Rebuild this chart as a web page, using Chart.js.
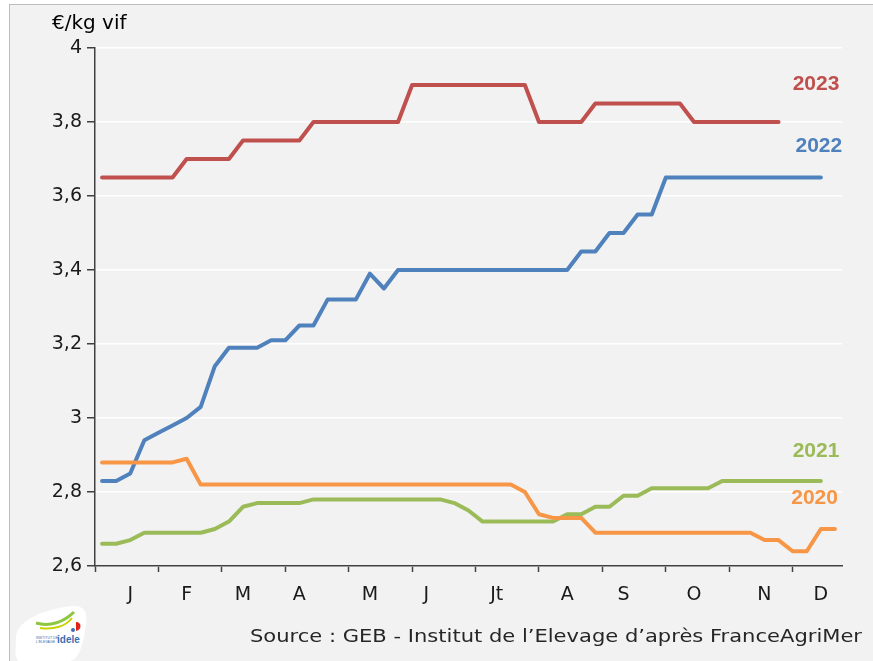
<!DOCTYPE html>
<html>
<head>
<meta charset="utf-8">
<script src="https://cdn.jsdelivr.net/npm/chart.js@4.4.0/dist/chart.umd.min.js"></script>
<style>
  body { margin: 0; background: #fff; }
  #frame { position: absolute; left: 9px; top: 4px; width: 900px; height: 700px;
           background: #f2f2f2; border-top: 1px solid #bdbdbd; border-left: 1px solid #bdbdbd; }
  #logo { position: absolute; left: 10px; top: 600px; }
  canvas { position: absolute; left: 0; top: 0; }
</style>
</head>
<body>
<div id="frame"></div>
<svg id="logo" width="80" height="61" viewBox="0 0 80 61">
  <path d="M6 40 C 4 22, 30 10, 62 6 C 74 5, 78 12, 76 24 C 74 40, 70 60, 60 61 L 8 61 C 4 55, 6 48, 6 40 Z" fill="#fff"/>
  <path d="M26 23 C 40 27, 54 22, 64 12" stroke="#8dc63f" stroke-width="3" fill="none"/>
  <path d="M30 28 C 44 30, 56 26, 62 18" stroke="#c8d400" stroke-width="2" fill="none"/>
  <path d="M66 22 C 72 22, 72 30, 66 31 Z" fill="#e2231a"/>
  <circle cx="63" cy="30" r="2" fill="#3a6fb0"/>
  <text x="26" y="39" font-family="Liberation Sans" font-size="3.6" fill="#3a6fb0">INSTITUT DE</text>
  <text x="26" y="43" font-family="Liberation Sans" font-size="3.6" fill="#3a6fb0">L'ELEVAGE</text>
  <text x="47" y="43" font-family="Liberation Sans" font-weight="bold" font-size="10" fill="#3a6fb0">idele</text>
</svg>
<canvas id="chart" width="873" height="661"></canvas>
<script>
// weekly prices, €/kg vif (week index 0..52)
const prices2023 = [3.65, 3.65, 3.65, 3.65, 3.65, 3.65, 3.70, 3.70, 3.70, 3.70,
  3.75, 3.75, 3.75, 3.75, 3.75, 3.80, 3.80, 3.80, 3.80, 3.80,
  3.80, 3.80, 3.90, 3.90, 3.90, 3.90, 3.90, 3.90, 3.90, 3.90,
  3.90, 3.80, 3.80, 3.80, 3.80, 3.85, 3.85, 3.85, 3.85, 3.85,
  3.85, 3.85, 3.80, 3.80, 3.80, 3.80, 3.80, 3.80, 3.80];
const prices2022 = [2.83, 2.83, 2.85, 2.94, 2.96, 2.98, 3.00, 3.03, 3.14, 3.19,
  3.19, 3.19, 3.21, 3.21, 3.25, 3.25, 3.32, 3.32, 3.32, 3.39,
  3.35, 3.40, 3.40, 3.40, 3.40, 3.40, 3.40, 3.40, 3.40, 3.40,
  3.40, 3.40, 3.40, 3.40, 3.45, 3.45, 3.50, 3.50, 3.55, 3.55,
  3.65, 3.65, 3.65, 3.65, 3.65, 3.65, 3.65, 3.65, 3.65, 3.65,
  3.65, 3.65];
const prices2021 = [2.66, 2.66, 2.67, 2.69, 2.69, 2.69, 2.69, 2.69, 2.70, 2.72,
  2.76, 2.77, 2.77, 2.77, 2.77, 2.78, 2.78, 2.78, 2.78, 2.78,
  2.78, 2.78, 2.78, 2.78, 2.78, 2.77, 2.75, 2.72, 2.72, 2.72,
  2.72, 2.72, 2.72, 2.74, 2.74, 2.76, 2.76, 2.79, 2.79, 2.81,
  2.81, 2.81, 2.81, 2.81, 2.83, 2.83, 2.83, 2.83, 2.83, 2.83,
  2.83, 2.83];
const prices2020 = [2.88, 2.88, 2.88, 2.88, 2.88, 2.88, 2.89, 2.82, 2.82, 2.82,
  2.82, 2.82, 2.82, 2.82, 2.82, 2.82, 2.82, 2.82, 2.82, 2.82,
  2.82, 2.82, 2.82, 2.82, 2.82, 2.82, 2.82, 2.82, 2.82, 2.82,
  2.80, 2.74, 2.73, 2.73, 2.73, 2.69, 2.69, 2.69, 2.69, 2.69,
  2.69, 2.69, 2.69, 2.69, 2.69, 2.69, 2.69, 2.67, 2.67, 2.64,
  2.64, 2.70, 2.70];

const NB_WEEKS = 53;
const monthLabels = ['J', 'F', 'M', 'A', 'M', 'J', 'Jt', 'A', 'S', 'O', 'N', 'D'];
const monthLabelWeeks = [2.5, 6.5, 10.5, 14.5, 19.5, 23.5, 28.5, 33.5, 37.5, 42.5, 47.5, 51.5];
const monthTickWeeks = [0, 4.5, 9, 13.5, 18, 22.5, 27, 31.5, 36, 40.5, 45, 49.5];

const yTicks = [2.6, 2.8, 3, 3.2, 3.4, 3.6, 3.8, 4];

const seriesNames = ['2023', '2022', '2021', '2020'];
const seriesColors = ['#c0504d', '#4f81bd', '#9bbb59', '#f79646'];
const seriesData = [prices2023, prices2022, prices2021, prices2020];
// year labels placed in data units (week, price)
const yearLabelX = [49.5, 49.7, 49.5, 49.4];
const yearLabelY = [3.903, 3.735, 2.911, 2.784];

const toPoints = arr => arr.map((v, i) => ({ x: i + 0.5, y: v }));

const datasets = seriesData.map((arr, k) => ({
  label: seriesNames[k],
  data: toPoints(arr),
  borderColor: seriesColors[k],
  borderWidth: 4,
  pointRadius: 0,
  tension: 0,
  borderCapStyle: 'round',
  borderJoinStyle: 'round',
  fill: false
})).reverse();

const textPlugin = {
  id: 'texts',
  afterDatasetsDraw(chart) {
    const ctx = chart.ctx;
    const xs = chart.scales.x, ys = chart.scales.y;
    ctx.save();
    ctx.textBaseline = 'middle';
    ctx.textAlign = 'left';
    ctx.font = 'bold 21px "Liberation Sans"';
    seriesNames.forEach((name, k) => {
      ctx.fillStyle = seriesColors[k];
      ctx.fillText(name, xs.getPixelForValue(yearLabelX[k]), ys.getPixelForValue(yearLabelY[k]));
    });
    ctx.fillStyle = '#000';
    ctx.font = '20px "DejaVu Sans"';
    ctx.fillText('€/kg vif', 52, 24);

    // source line, stretched to the width of the original (wide typeface there)
    ctx.fillStyle = '#262626';
    ctx.font = '18px "DejaVu Sans"';
    const src = 'Source : GEB - Institut de l\u2019Elevage d\u2019après FranceAgriMer';
    const w = ctx.measureText(src).width;
    const sx = 612 / w;
    ctx.translate(250, 637);
    ctx.scale(sx, 1);
    ctx.fillText(src, 0, 0);
    ctx.restore();
  }
};

new Chart(document.getElementById('chart'), {
  type: 'line',
  data: { datasets: datasets },
  plugins: [textPlugin],
  options: {
    responsive: false,
    animation: false,
    layout: { padding: { left: 0, right: 31, top: 48, bottom: 0 } },
    plugins: { legend: { display: false }, tooltip: { enabled: false } },
    scales: {
      x: {
        type: 'linear',
        min: 0,
        max: NB_WEEKS,
        afterBuildTicks: s => {
          s.ticks = monthTickWeeks.map(v => ({ value: v }))
            .concat(monthLabelWeeks.map(v => ({ value: v })));
        },
        afterFit: s => { s.height = 95; },
        grid: {
          drawOnChartArea: false,
          drawTicks: true,
          tickLength: 6,
          tickWidth: 1.5,
          tickColor: c => (c.tick && monthTickWeeks.includes(c.tick.value)) ? '#404040' : 'rgba(0,0,0,0)'
        },
        border: { color: '#404040', width: 1.5 },
        ticks: {
          autoSkip: false,
          maxRotation: 0,
          padding: 12,
          color: '#1a1a1a',
          font: { family: 'DejaVu Sans', size: 19 },
          callback: v => {
            const idx = monthLabelWeeks.indexOf(v);
            return idx >= 0 ? monthLabels[idx] : '';
          }
        }
      },
      y: {
        min: 2.6,
        max: 4,
        afterBuildTicks: s => { s.ticks = yTicks.map(v => ({ value: v })); },
        afterFit: s => { s.width = 95; },
        grid: {
          color: '#ffffff',
          lineWidth: 1.5,
          tickLength: 8,
          tickColor: '#404040',
          tickWidth: 1.5
        },
        border: { color: '#404040', width: 1.5 },
        ticks: {
          padding: 5,
          color: '#1a1a1a',
          font: { family: 'DejaVu Sans', size: 19 },
          callback: v => String(Math.round(v * 10) / 10).replace('.', ',')
        }
      }
    }
  }
});
</script>
</body>
</html>
